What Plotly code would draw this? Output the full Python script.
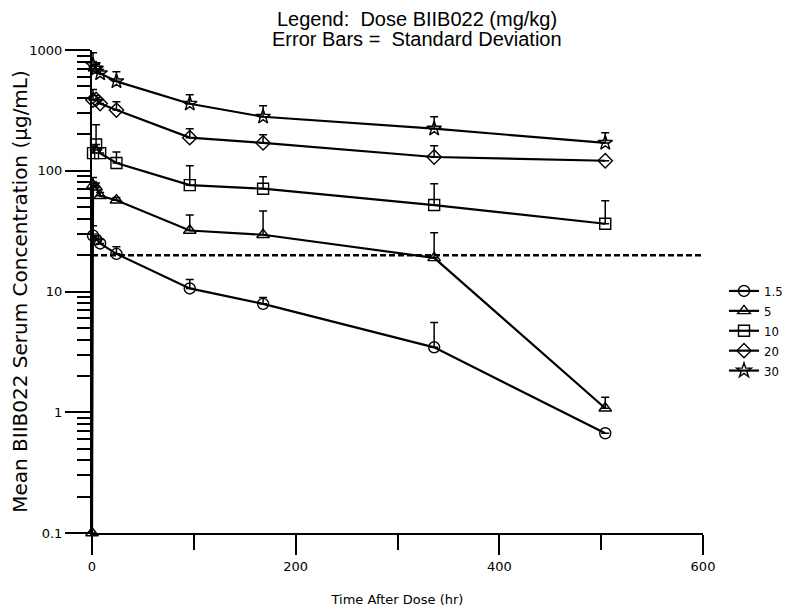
import plotly.graph_objects as go

# ---- data ----
doses = ["1.5", "5", "10", "20", "30"]
symbols = ["circle-open", "triangle-up-open", "square-open", "diamond-open", "star-open"]

time_hr = [1, 4, 8, 24, 96, 168, 336, 504]
time_hr_5 = [0, 1, 4, 8, 24, 96, 168, 336, 504]

conc_1_5 = [29, 27, 25, 20.5, 10.6, 7.9, 3.45, 0.67]
sd_1_5 = [6, 2, 2, 3, 2, 1, 2.1, 0]

conc_5 = [0.1, 76, 73, 62, 57, 32, 29.5, 19, 1.08]
sd_5 = [0, 12, 6, 4, 3, 11, 17, 11.6, 0.25]

conc_10 = [140, 165, 140, 116, 76, 71, 52, 36.4]
sd_10 = [20, 75, 15, 27, 34, 18, 26, 20]

conc_20 = [385, 390, 360, 318, 188, 170, 130, 121]
sd_20 = [85, 30, 30, 55, 35, 29, 31, 0]

conc_30 = [750, 700, 640, 550, 359, 280, 223, 170]
sd_30 = [200, 60, 50, 110, 67, 65, 57, 36]

threshold = 20
threshold_x = [0, 600]

y_major = [0.1, 1, 10, 100, 1000]
y_minor = [m * d for d in [0.1, 1, 10, 100] for m in range(2, 10)]
x_major = [0, 200, 400, 600]
x_minor = [100, 300, 500]

title_lines = ["Legend:  Dose BIIB022 (mg/kg)", "Error Bars =  Standard Deviation"]

series = [
    (time_hr, conc_1_5, sd_1_5),
    (time_hr_5, conc_5, sd_5),
    (time_hr, conc_10, sd_10),
    (time_hr, conc_20, sd_20),
    (time_hr, conc_30, sd_30),
]

# the page body adds an 8px offset, so the figure is laid out 8px smaller
W, H = 782, 607
L, T, R, B = 84, 42, 87, 82
plot_w = W - L - R
plot_h = H - T - B

fig = go.Figure()

fig.add_trace(go.Scatter(
    x=threshold_x, y=[threshold, threshold], mode="lines",
    line=dict(color="black", width=2.5, dash="6px,3px"),
    showlegend=False, hoverinfo="skip"))

for name, sym, (t, c, s) in zip(doses, symbols, series):
    fig.add_trace(go.Scatter(
        x=t, y=c, name=name, mode="lines+markers",
        line=dict(color="black", width=2.2),
        marker=dict(symbol=sym, size=11, color="black", line=dict(width=1.4, color="black")),
        error_y=dict(type="data", array=s, arrayminus=[0] * len(s), symmetric=False,
                     color="black", thickness=1.5, width=4),
        cliponaxis=False,
    ))

axis_font = dict(family="DejaVu Sans", size=13, color="black")
title_font = dict(family="Liberation Sans, Arial", size=20, color="black")

# two title lines as annotations above the plot area
for i, line in enumerate(title_lines):
    y_px = 11 + 20 * i  # figure pixels from top
    fig.add_annotation(text=line, xref="paper", yref="paper",
                       x=(409 - L) / plot_w, y=(T + plot_h - y_px) / plot_h,
                       xanchor="center", yanchor="middle", showarrow=False,
                       font=title_font)

fig.update_layout(
    width=W, height=H,
    margin=dict(l=L, r=R, t=T, b=B, autoexpand=False),
    paper_bgcolor="white", plot_bgcolor="white",
    showlegend=True,
    legend=dict(xref="container", yref="container",
                x=716 / W, xanchor="left", y=1 - 268 / H, yanchor="top",
                font=dict(family="DejaVu Sans Condensed, DejaVu Sans", size=13, color="black"),
                bgcolor="rgba(0,0,0,0)", borderwidth=0, tracegroupgap=0, itemwidth=30),
    xaxis=dict(
        range=[0, 600], tickvals=x_major, automargin=False,
        showgrid=False, zeroline=False,
        showline=True, linecolor="black", linewidth=2,
        ticks="outside", ticklen=20, tickwidth=2, tickcolor="black",
        minor=dict(tickvals=x_minor, ticks="outside", ticklen=15, tickwidth=2, tickcolor="black"),
        tickfont=axis_font,
        title=dict(text="Time After Dose (hr)", font=dict(family="DejaVu Sans", size=13, color="black"), standoff=22),
    ),
    yaxis=dict(
        type="log", range=[-1, 3], automargin=False,
        tickvals=y_major, ticktext=[str(v) for v in y_major],
        showgrid=False, zeroline=False,
        showline=True, linecolor="black", linewidth=2,
        ticks="outside", ticklen=25, tickwidth=2, tickcolor="black",
        minor=dict(tickvals=y_minor, ticks="outside", ticklen=13, tickwidth=2, tickcolor="black", showgrid=False),
        tickfont=axis_font,
        title=dict(text="Mean BIIB022 Serum Concentration (µg/mL)",
                   font=dict(family="DejaVu Sans", size=20, color="black"), standoff=8),
    ),
)

fig.write_html("out.html")
